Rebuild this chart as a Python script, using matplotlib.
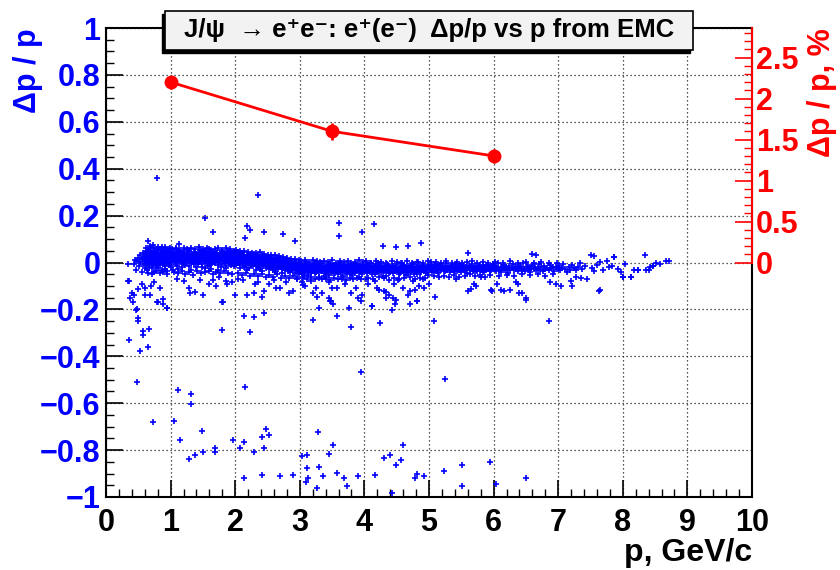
import numpy as np
import matplotlib
matplotlib.use('Agg')
import matplotlib.pyplot as plt
from matplotlib.patches import Rectangle

plt.rcParams['font.family'] = ['Liberation Sans', 'DejaVu Sans']
plt.rcParams['font.weight'] = 'bold'

# ---------------- red series: resolution in % ----------------
p_res = [1.0, 3.5, 6.0]
res_pct = [2.2, 1.6, 1.3]
res_err = [0.08, 0.10, 0.09]

# ---------------- axis ticks / labels ----------------
x_ticks = [0, 1, 2, 3, 4, 5, 6, 7, 8, 9, 10]
y_ticks = [-1, -0.8, -0.6, -0.4, -0.2, 0, 0.2, 0.4, 0.6, 0.8, 1]
y_tick_labels = ['\u22121', '\u22120.8', '\u22120.6', '\u22120.4', '\u22120.2', '0',
                 '0.2', '0.4', '0.6', '0.8', '1']
r_ticks = [0, 0.5, 1, 1.5, 2, 2.5]
r_tick_labels = ['0', '0.5', '1', '1.5', '2', '2.5']

# ---------------- blue scatter: dense band ----------------
# flattened pairs: p in units of 0.01 GeV/c, dp/p in units of 0.001
band_a = [43,-8, 45,10, 47,-30, 48,5, 50,20, 51,-15, 52,32, 53,2, 55,-42, 56,15, 57,40,
          58,-5, 59,25, 60,-22, 60,8, 34,-5]
band_b = [61,12, 61,35, 62,-10, 62,48, 63,20, 63,0, 64,28, 64,-30, 65,15, 65,55, 66,5, 66,38,
          67,-18, 67,22, 68,44, 68,10, 69,-4, 69,30, 70,62, 70,18, 71,-25, 71,40, 72,8, 72,26,
          73,50, 73,-8, 74,14, 74,33, 75,-40, 75,20, 76,2, 76,45, 77,28, 77,12, 78,-14, 78,36,
          79,58, 79,6, 80,24, 80,-22, 81,42, 81,16, 82,0, 82,30, 83,52, 83,10, 84,-12, 84,22,
          85,38, 85,4, 86,66, 86,18, 87,-30, 87,28, 88,12, 88,46, 89,-6, 89,34, 90,20, 90,2,
          91,40, 91,-16, 92,26, 92,8, 93,54, 93,14, 94,-2, 94,32, 95,22, 95,-35, 96,44, 96,10,
          97,28, 97,-10, 98,16, 98,38, 99,4, 99,60, 100,24, 100,-20,
          62,25, 64,8, 66,-2, 68,30, 70,5, 72,-12, 74,48, 76,22, 78,15, 80,40, 82,18, 84,6,
          86,32, 88,-2, 90,48, 92,-28, 94,18, 96,30, 98,-4, 100,42, 63,40, 67,6, 71,20, 75,34,
          79,-10, 83,26, 87,8, 91,22, 95,10, 99,30]
band_c = [101,18, 102,32, 103,6, 104,25, 105,40, 106,12, 107,28, 108,-5, 109,20, 110,36,
          111,10, 112,24, 113,48, 114,15, 115,2, 116,30, 117,20, 118,42, 119,8, 120,26,
          121,14, 122,34, 123,-10, 124,22, 125,38, 126,6, 127,18, 128,30, 129,50, 130,12,
          131,24, 132,-2, 133,34, 134,20, 135,8, 136,44, 137,26, 138,16, 139,-18, 140,30,
          141,10, 142,38, 143,22, 144,4, 145,28, 146,52, 147,14, 148,32, 149,-8, 150,20,
          151,36, 152,10, 153,26, 154,44, 155,2, 156,18, 157,30, 158,-14, 159,24, 160,40,
          161,12, 162,28, 163,6, 164,20, 165,46, 166,16, 167,34, 168,-4, 169,22, 170,10,
          171,30, 172,42, 173,18, 174,2, 175,26, 176,36, 177,14, 178,-20, 179,28, 180,20,
          181,8, 182,38, 183,24, 184,-2, 185,32, 186,16, 187,46, 188,10, 189,26, 190,4,
          191,34, 192,20, 193,-12, 194,28, 195,14, 196,40, 197,22, 198,6, 199,30, 200,16,
          101,-12, 103,44, 105,22, 107,10, 109,56, 111,-26, 113,28, 115,18, 117,4, 119,34,
          121,-4, 123,26, 125,14, 127,52, 129,20, 131,-34, 133,8, 135,28, 137,40, 139,12,
          141,22, 143,-6, 145,36, 147,18, 149,46, 151,6, 153,-22, 155,30, 157,14, 159,56,
          161,24, 163,-8, 165,18, 167,4, 169,38, 171,16, 173,-30, 175,12, 177,32, 179,48,
          181,22, 183,6, 185,-14, 187,28, 189,40, 191,12, 193,24, 195,-4, 197,36, 199,8,
          102,10, 104,-30, 106,34, 108,20, 110,-14, 112,40, 114,26, 116,8, 118,-20, 120,44,
          122,16, 124,4, 126,30, 128,-16, 130,38, 132,22, 134,34, 136,-8, 138,28, 140,14,
          142,2, 144,42, 146,24, 148,-18, 150,32, 152,48, 154,16, 156,-2, 158,38, 160,26,
          162,-28, 164,34, 166,2, 168,26, 170,40, 172,14, 174,-10, 176,20, 178,34, 180,-6,
          182,16, 184,30, 186,-24, 188,22, 190,44, 192,-6, 194,12, 196,24, 198,-16, 200,36,
          101,28, 104,12, 106,20, 109,4, 111,32, 114,22, 116,40, 119,18, 121,30, 124,10,
          126,22, 129,34, 131,14, 134,2, 136,24, 139,36, 141,20, 144,16, 146,6, 149,28,
          151,22, 154,30, 156,40, 159,10, 161,-10, 164,30, 166,24, 169,8, 171,20, 174,32,
          176,6, 179,14, 181,30, 184,18, 186,36, 189,14, 191,24, 194,40, 196,8, 199,20]
band_d = [201,22, 202,8, 203,30, 204,-4, 205,18, 206,36, 207,10, 208,-12, 209,24, 210,4,
          211,40, 212,14, 213,-20, 214,28, 215,6, 216,18, 217,-8, 218,32, 219,10, 220,-2,
          221,22, 222,-24, 223,14, 224,38, 225,2, 226,16, 227,-14, 228,26, 229,6, 230,-6,
          231,20, 232,-30, 233,10, 234,30, 235,-2, 236,12, 237,-18, 238,22, 239,4, 240,-10,
          241,16, 242,-36, 243,6, 244,26, 245,-6, 246,10, 247,-22, 248,18, 249,0, 250,-14,
          251,12, 252,-28, 253,4, 254,22, 255,-8, 256,6, 257,-20, 258,14, 259,-2, 260,-16,
          261,8, 262,-40, 263,-4, 264,16, 265,-12, 266,2, 267,-26, 268,10, 269,-8, 270,-20,
          271,4, 272,-44, 273,-10, 274,12, 275,-18, 276,-2, 277,-30, 278,6, 279,-14, 280,-24,
          281,0, 282,-36, 283,-12, 284,8, 285,-22, 286,-6, 287,-32, 288,-2, 289,-18, 290,-28,
          291,-8, 292,-46, 293,-16, 294,4, 295,-26, 296,-10, 297,-38, 298,-4, 299,-20, 300,-30,
          201,-10, 203,12, 205,44, 207,-22, 209,2, 211,18, 213,32, 215,-16, 217,24, 219,-30,
          221,6, 223,28, 225,-12, 227,10, 229,36, 231,0, 233,-16, 235,22, 237,8, 239,-26,
          241,30, 243,-14, 245,14, 247,2, 249,24, 251,-4, 253,-18, 255,16, 257,4, 259,-32,
          261,20, 263,8, 265,-24, 267,6, 269,18, 271,-10, 273,-28, 275,2, 277,-8, 279,14,
          281,-20, 283,-2, 285,-40, 287,-14, 289,0, 291,-24, 293,-4, 295,-12, 297,-20, 299,-48,
          202,16, 204,34, 206,0, 208,20, 210,26, 212,-6, 214,10, 216,2, 218,14, 220,30,
          222,4, 224,18, 226,-6, 228,8, 230,20, 232,12, 234,-10, 236,24, 238,0, 240,14,
          242,8, 244,-2, 246,20, 248,-12, 250,6, 252,16, 254,0, 256,-16, 258,-6, 260,4,
          262,10, 264,-6, 266,-18, 268,-2, 270,8, 272,-14, 274,-4, 276,-22, 278,-10, 280,-2,
          282,-16, 284,-28, 286,-18, 288,-10, 290,-22, 292,-12, 294,-30, 296,-20, 298,-14, 300,-8]
band_e = [301,-22, 302,-36, 303,-12, 304,-28, 305,-44, 306,-18, 307,-30, 308,-6, 309,-24,
          310,-38, 311,-14, 312,-26, 313,-52, 314,-20, 315,-32, 316,-10, 317,-28, 318,-40,
          319,-16, 320,-24, 321,-34, 322,-8, 323,-22, 324,-46, 325,-30, 326,-18, 327,-36,
          328,-12, 329,-26, 330,-42, 331,-20, 332,-30, 333,-4, 334,-24, 335,-38, 336,-16,
          337,-28, 338,-56, 339,-22, 340,-32, 341,-14, 342,-26, 343,-40, 344,-18, 345,-30,
          346,-8, 347,-24, 348,-36, 349,-20, 350,-28, 351,-44, 352,-16, 353,-32, 354,-24,
          355,-10, 356,-38, 357,-22, 358,-30, 359,-48, 360,-18, 361,-26, 362,-34, 363,-12,
          364,-28, 365,-42, 366,-20, 367,-30, 368,-6, 369,-24, 370,-36, 371,-18, 372,-28,
          373,-50, 374,-22, 375,-32, 376,-14, 377,-26, 378,-40, 379,-20, 380,-30, 381,-10,
          382,-24, 383,-36, 384,-18, 385,-28, 386,-46, 387,-22, 388,-32, 389,-12, 390,-26,
          391,-38, 392,-16, 393,-30, 394,-22, 395,-42, 396,-18, 397,-28, 398,-8, 399,-34, 400,-24,
          301,-4, 303,-48, 305,-16, 307,-58, 309,2, 311,-34, 313,-26, 315,-12, 317,-46, 319,-32,
          321,-18, 323,-2, 325,-40, 327,-24, 329,-62, 331,-10, 333,-36, 335,-26, 337,-14,
          339,-44, 341,-30, 343,-20, 345,-54, 347,-6, 349,-38, 351,-26, 353,-12, 355,-46,
          357,-32, 359,-18, 361,-4, 363,-40, 365,-28, 367,-58, 369,-14, 371,-36, 373,-24,
          375,-10, 377,-44, 379,-30, 381,-52, 383,-16, 385,-6, 387,-38, 389,-26, 391,-60,
          393,-14, 395,-28, 397,-48, 399,-20,
          302,-20, 304,-14, 306,-32, 308,-26, 310,-22, 312,-38, 314,-30, 316,-24, 318,-20,
          320,-36, 322,-28, 324,-16, 326,-26, 328,-34, 330,-22, 332,-18, 334,-32, 336,-28,
          338,-24, 340,-18, 342,-36, 344,-30, 346,-22, 348,-26, 350,-16, 352,-30, 354,-36,
          356,-24, 358,-20, 360,-34, 362,-22, 364,-16, 366,-30, 368,-26, 370,-20, 372,-38,
          374,-30, 376,-24, 378,-18, 380,-36, 382,-30, 384,-22, 386,-26, 388,-18, 390,-32,
          392,-26, 394,-34, 396,-24, 398,-20, 400,-30]
band_f = [401,-18, 402,-32, 403,-24, 404,-44, 405,-12, 406,-28, 407,-36, 408,-20, 409,-30,
          410,-8, 411,-26, 412,-40, 413,-22, 414,-34, 415,-16, 416,-28, 417,-50, 418,-20,
          419,-32, 420,-24, 421,-4, 422,-30, 423,-38, 424,-18, 425,-26, 426,-42, 427,-22,
          428,-34, 429,-14, 430,-28, 431,-36, 432,-20, 433,-30, 434,-56, 435,-24, 436,-10,
          437,-32, 438,-22, 439,-40, 440,-28, 441,-18, 442,-34, 443,-26, 444,-46, 445,-16,
          446,-30, 447,-24, 448,-38, 449,-20, 450,-6, 451,-28, 452,-36, 453,-22, 454,-32,
          455,-44, 456,-18, 457,-26, 458,-34, 459,-12, 460,-28, 461,-40, 462,-22, 463,-30,
          464,-20, 465,-52, 466,-26, 467,-36, 468,-14, 469,-28, 470,-22, 471,-34, 472,-42,
          473,-18, 474,-30, 475,-24, 476,-8, 477,-32, 478,-26, 479,-38, 480,-20, 481,-30,
          482,-48, 483,-22, 484,-34, 485,-16, 486,-28, 487,-24, 488,-40, 489,-12, 490,-30,
          491,-22, 492,-36, 493,-26, 494,-18, 495,-44, 496,-28, 497,-20, 498,-32, 499,-24, 500,-10,
          402,-12, 405,-38, 408,-2, 411,-48, 414,-26, 417,-14, 420,-40, 423,-8, 426,-30, 429,-58,
          432,-34, 435,-6, 438,-46, 441,-28, 444,-14, 447,-38, 450,-30, 453,-48, 456,-4, 459,-36,
          462,-14, 465,-30, 468,-44, 471,-20, 474,-10, 477,-50, 480,-34, 483,2, 486,-42, 489,-30,
          492,-16, 495,-26, 498,-54,
          401,-28, 404,-22, 407,-26, 410,-34, 413,-30, 416,-20, 419,-26, 422,-22, 425,-34,
          428,-26, 431,-24, 434,-32, 437,-28, 440,-20, 443,-30, 446,-24, 449,-34, 452,-28,
          455,-24, 458,-20, 461,-30, 464,-34, 467,-24, 470,-30, 473,-26, 476,-20, 479,-28,
          482,-32, 485,-26, 488,-22, 491,-30, 494,-26, 497,-34, 500,-24]
band_g = [501,-20, 502,-34, 503,-12, 504,-26, 505,-40, 506,-18, 507,-30, 508,-22, 509,-6,
          510,-28, 511,-36, 512,-16, 513,-24, 514,-44, 515,-20, 516,-30, 517,-10, 518,-26,
          519,-34, 520,-22, 522,-14, 523,-30, 524,-38, 525,-20, 526,-26, 527,-4, 528,-32,
          529,-22, 530,-16, 532,-28, 533,-42, 534,-20, 535,-30, 536,-12, 537,-24, 538,-34,
          540,-18, 541,-28, 542,-8, 543,-36, 544,-22, 546,-30, 547,-16, 548,-26, 549,-40,
          550,-20, 552,-28, 553,-12, 554,-34, 555,-22, 557,-30, 558,-18, 559,-46, 560,-24,
          562,-14, 563,-32, 564,-20, 566,-28, 567,-6, 568,-36, 569,-22, 571,-16, 572,-30,
          573,-24, 575,-38, 576,-18, 577,-26, 579,-10, 580,-32, 582,-22, 583,-40, 584,-16,
          586,-28, 587,-20, 588,-34, 590,-12, 591,-26, 592,-22, 594,-38, 595,-18, 596,-30,
          598,-24, 599,-8, 600,-20,
          505,-24, 512,-28, 518,-18, 526,-32, 533,-24, 540,-36, 548,-14, 556,-26, 563,-24,
          570,-30, 578,-22, 585,-36, 593,-28, 597,-14]
band_h = [601,-28, 603,-14, 604,-36, 606,-22, 607,-4, 609,-30, 611,-18, 612,-40, 614,-24,
          616,-10, 617,-32, 619,-20, 621,-26, 623,-44, 624,-16, 626,-30, 628,-22, 630,-8,
          631,-34, 633,-20, 635,-28, 637,-12, 638,-38, 640,-24, 642,-18, 644,-30, 645,-2,
          647,-26, 649,-36, 651,-20, 653,-14, 655,-30, 656,-42, 658,-22, 660,-10, 662,-28,
          664,-18, 666,-34, 668,-24, 670,-6, 672,-30, 674,-20, 676,-38, 678,-14, 680,-26,
          682,-22, 685,-32, 687,-10, 689,-24, 692,-18, 694,-36, 697,-20, 699,-28,
          701,-16, 703,-30, 706,-22, 708,-8, 711,-26, 713,-40, 716,-18, 719,-30, 721,-12,
          724,-24, 727,-34, 730,-20, 733,-4, 737,-28, 741,-16, 752,-22, 756,-36, 760,-10,
          765,4, 770,-30, 775,6, 779,-20, 783,-14, 787,22, 792,-26, 797,-40, 800,-60,
          804,-8, 812,-60, 818,-32, 823,-30, 836,-34, 842,-18, 846,-16, 852,-2, 858,-6, 867,8]
band_edge = [62,62, 65,-45, 68,70, 71,-48, 74,60, 77,-38, 80,66, 83,-44, 86,58, 89,-40, 92,64,
             95,-48, 98,56,
             102,58, 105,-40, 108,62, 111,-44, 114,54, 117,-36, 120,60, 123,-48, 126,56,
             129,-40, 132,62, 135,-52, 138,58, 141,-38, 144,64, 147,-46, 150,56, 153,-42,
             156,60, 159,-36, 162,54, 165,-50, 168,58, 171,-40, 174,62, 177,-46, 180,52,
             183,-38, 186,60, 189,-44, 192,56, 195,-50, 198,50,
             202,52, 205,-46, 208,48, 211,-52, 214,50, 217,-44, 220,46, 223,-56, 226,42,
             229,-50, 232,40, 235,-58, 238,44, 241,-48, 244,36, 247,-60, 250,34, 253,-54,
             256,30, 259,-62, 262,32, 265,-50, 268,26, 271,-64, 274,24, 277,-56, 280,20,
             283,-66, 286,16, 289,-58, 292,14, 295,-68, 298,10,
             302,8, 305,-66, 308,12, 311,-70, 314,4, 317,-62, 320,10, 323,-72, 326,6, 329,-64,
             332,2, 335,-70, 338,8, 341,-60, 344,4, 347,-74, 350,10, 353,-66, 356,0, 359,-70,
             362,6, 365,-62, 368,2, 371,-76, 374,8, 377,-64, 380,0, 383,-70, 386,4, 389,-66,
             392,10, 395,-72, 398,2, 402,6, 406,-66, 410,0, 414,-72, 418,8, 422,-62, 426,4,
             430,-68, 434,-2, 438,-74, 442,6, 446,-64, 450,2, 454,-70, 458,0, 462,-66, 466,8,
             470,-60, 474,-2, 478,-72, 482,4, 486,-64, 490,0, 494,-68, 498,6,
             503,2, 507,-58, 511,4, 515,-62, 519,0, 523,-56, 527,6, 531,-60, 535,-2, 539,-54,
             543,4, 547,-62, 551,0, 555,-56, 559,2, 563,-50, 567,6, 571,-58, 575,-4, 579,-52,
             583,2, 587,-60, 591,0, 595,-54, 602,4, 608,-56, 614,0, 620,-52, 626,6, 632,-58,
             638,-2, 644,-50, 650,4, 656,-54, 662,0, 668,-48, 674,2, 680,-56, 686,-4, 692,-50,
             698,0]

# ---------------- blue scatter: outliers (p [GeV/c], dp/p) ----------------
outliers_up = [0.79,0.36, 2.35,0.286, 1.53,0.19, 1.66,0.128, 2.18,0.156, 2.23,0.138,
               2.15,0.104, 2.45,0.128, 2.74,0.121, 2.93,0.093, 3.61,0.17, 3.60,0.114,
               3.97,0.128, 4.15,0.163, 4.29,0.069, 4.49,0.065, 4.68,0.069, 4.88,0.083,
               5.60,0.039, 0.65,0.093, 0.73,0.075, 1.13,0.079, 7.50,0.030, 7.56,0.028,
               8.35,0.030, 8.72,0.008, 6.60,0.035, 6.65,0.030, 7.87,0.023, 8.46,-0.017]
outliers_mid = [0.34,-0.077, 0.37,-0.15, 0.43,-0.14, 0.48,-0.20, 0.61,-0.11, 0.61,-0.14,
                0.68,-0.14, 0.83,-0.107, 0.80,-0.168, 0.88,-0.156, 0.95,-0.196, 1.37,-0.125,
                1.50,-0.14, 1.66,-0.073, 1.81,-0.17, 2.18,-0.14, 2.45,-0.12, 2.69,-0.11,
                2.83,-0.13, 3.05,-0.097, 3.26,-0.146, 3.45,-0.153, 3.48,-0.165, 3.58,-0.107,
                3.97,-0.14, 4.12,-0.186, 4.23,-0.118, 4.33,-0.125, 4.45,-0.15, 4.49,-0.158,
                4.67,-0.14, 4.79,-0.118, 4.82,-0.163, 5.10,-0.146, 5.65,-0.115, 5.73,-0.10,
                5.96,-0.118, 6.11,-0.118, 6.25,-0.118, 6.44,-0.13, 7.65,-0.118,
                0.36,-0.078, 0.40,-0.13, 0.50,-0.114, 0.55,-0.09, 0.70,-0.10, 0.75,-0.085,
                1.29,-0.107, 1.30,-0.13, 1.59,-0.09, 1.75,-0.06, 1.85,-0.08, 1.88,-0.09,
                2.00,-0.14, 2.12,-0.075, 2.29,-0.13, 2.31,-0.09, 2.36,-0.085, 2.42,-0.145,
                2.52,-0.09, 2.63,-0.11, 2.78,-0.085, 2.90,-0.12, 3.04,-0.085, 3.17,-0.08,
                3.25,-0.11, 3.35,-0.13, 3.08,-0.10, 3.20,-0.13, 3.40,-0.07, 3.45,-0.085,
                3.50,-0.11, 3.65,-0.07, 3.70,-0.09, 3.80,-0.13, 3.87,-0.11, 3.90,-0.15,
                4.03,-0.07, 4.06,-0.09, 4.17,-0.08, 4.20,-0.11, 4.30,-0.12, 4.33,-0.15,
                4.38,-0.14, 4.46,-0.093, 4.52,-0.075, 4.60,-0.11, 4.70,-0.12, 4.75,-0.08,
                4.85,-0.10, 4.90,-0.07, 4.93,-0.11, 5.00,-0.09, 5.42,-0.07, 5.60,-0.12,
                5.70,-0.09, 5.80,-0.06, 5.97,-0.12, 6.05,-0.09, 6.16,-0.12, 6.35,-0.085,
                6.38,-0.09, 6.40,-0.13, 6.50,-0.15, 6.87,-0.085, 6.97,-0.09, 7.05,-0.10,
                7.20,-0.08, 7.22,-0.10, 7.28,-0.06, 7.36,-0.065, 7.45,-0.07, 7.63,-0.12,
                1.10,-0.07, 1.20,-0.08, 1.45,-0.075, 1.70,-0.10, 1.95,-0.085, 2.05,-0.07,
                2.60,-0.075, 2.95,-0.07, 8.00,-0.06, 8.12,-0.06, 8.23,-0.031, 8.40,-0.034]
outliers_far = [0.42,-0.17, 0.46,-0.203, 0.49,-0.238, 0.50,-0.248, 0.57,-0.292, 0.57,-0.311,
                0.67,-0.283, 0.35,-0.331, 0.53,-0.379, 0.65,-0.361, 0.79,-0.17, 0.88,-0.175,
                0.94,-0.194, 1.80,-0.17, 1.80,-0.287, 2.13,-0.228, 2.29,-0.234, 2.44,-0.214,
                2.23,-0.297, 3.20,-0.244, 3.30,-0.194, 3.46,-0.163, 3.52,-0.176, 3.58,-0.228,
                3.76,-0.194, 3.79,-0.273, 3.94,-0.163, 4.12,-0.184, 4.24,-0.258, 4.42,-0.204,
                4.48,-0.175, 4.71,-0.176, 4.81,-0.166, 5.07,-0.248, 6.50,-0.162, 6.85,-0.248,
                0.48,-0.511, 2.15,-0.531, 3.95,-0.468, 5.24,-0.496, 1.11,-0.545, 1.32,-0.561,
                1.32,-0.604, 0.73,-0.682, 1.05,-0.678, 1.49,-0.717, 1.15,-0.759, 1.28,-0.837,
                1.37,-0.823, 1.50,-0.808, 1.69,-0.789, 1.69,-0.808, 1.96,-0.759, 2.08,-0.789,
                2.14,-0.766, 2.29,-0.808, 2.42,-0.745, 2.47,-0.711, 2.52,-0.735, 2.45,-0.789,
                2.13,-0.921, 2.42,-0.907, 2.70,-0.911, 2.89,-0.907, 3.03,-0.827, 3.11,-0.823,
                3.11,-0.875, 3.12,-0.921, 3.10,-0.937, 3.26,-0.961, 3.28,-0.721, 3.30,-0.873,
                3.36,-0.911, 3.45,-0.818, 3.52,-0.779, 3.57,-0.896, 3.69,-0.917, 3.73,-0.951,
                3.90,-0.911, 4.16,-0.906, 4.30,-0.834, 4.39,-0.823, 4.49,-0.862, 4.57,-0.844,
                4.60,-0.779, 4.43,-0.985, 4.79,-0.917, 4.81,-0.900, 4.93,-0.911, 5.23,-0.887,
                5.51,-0.862, 5.51,-0.951, 5.95,-0.852, 6.03,-0.945, 6.50,-0.917]


def split_pairs(flat, sx=1.0, sy=1.0):
    a = np.asarray(flat, dtype=float).reshape(-1, 2)
    return a[:, 0] * sx, a[:, 1] * sy


W, H = 840, 570
fig = plt.figure(figsize=(W / 100, H / 100), dpi=100)
fig.patch.set_facecolor('white')

L, R, T, B = 106, 752, 28, 497
ax = fig.add_axes([L / W, 1 - B / H, (R - L) / W, (B - T) / H])
ax.set_xlim(0, 10)
ax.set_ylim(-1, 1)

blue = '#0000ff'
red = '#ff0000'

# scatter
for band in [band_a, band_b, band_c, band_d, band_e, band_f, band_g, band_h, band_edge]:
    bx, by = split_pairs(band, 0.01, 0.001)
    ax.plot(bx, by, '+', color=blue, ms=4.0, mew=1.2, ls='none', zorder=3)
for out in [outliers_up, outliers_mid, outliers_far]:
    ox, oy = split_pairs(out)
    ax.plot(ox, oy, '+', color=blue, ms=4.0, mew=1.2, ls='none', zorder=3)

# grid
ax.grid(True, which='major', color='#222222', linestyle=(0, (1, 2.2)), linewidth=0.9)
ax.set_axisbelow(True)

# ticks left / bottom
ax.set_xticks(x_ticks)
ax.set_xticklabels([str(t) for t in x_ticks])
ax.set_xticks(np.arange(0, 10.01, 0.2), minor=True)
ax.set_yticks(y_ticks)
ax.set_yticklabels(y_tick_labels)
ax.set_yticks(np.arange(-1, 1.001, 0.05), minor=True)
ax.tick_params(axis='both', which='major', direction='in', length=12, width=1.2,
               color='black', labelsize=22)
ax.tick_params(axis='both', which='minor', direction='in', length=6, width=1.0, color='black')
ax.tick_params(axis='y', labelcolor=blue, pad=4)
ax.tick_params(axis='x', labelcolor='black', pad=8)
ax.tick_params(right=False, top=False, which='both')
for lab in ax.get_xticklabels() + ax.get_yticklabels():
    lab.set_fontweight('bold')
for s in ax.spines.values():
    s.set_linewidth(1.5)
    s.set_color('black')

# right axis (percent)
ax2 = ax.twinx()
ax2.set_ylim(-2.86, 2.86)
ax2.set_xlim(0, 10)
ax2.errorbar(p_res, res_pct, yerr=res_err, color=red, marker='o', ms=9, lw=2,
             elinewidth=2, capsize=0, zorder=5)
ax2.set_yticks(r_ticks)
ax2.set_yticklabels(r_tick_labels)
minor_r = [v for v in np.round(np.arange(0.1, 2.81, 0.1), 2) if v not in r_ticks]
ax2.set_yticks(minor_r, minor=True)
ax2.tick_params(axis='y', which='major', direction='in', length=12, width=1.2,
                color=red, labelcolor=red, labelsize=22, pad=3)
ax2.tick_params(axis='y', which='minor', direction='in', length=6, width=1.0, color=red)
for lab in ax2.get_yticklabels():
    lab.set_fontweight('bold')
for k in ['left', 'top', 'bottom']:
    ax2.spines[k].set_visible(False)
ax2.spines['right'].set_color(red)
ax2.spines['right'].set_linewidth(1.5)
ax2.spines['right'].set_bounds(0, 2.86)

# axis titles
fig.text(28 / W, 1 - 28 / H, '\u0394p / p', color=blue, fontsize=22, fontweight='bold',
         rotation=90, ha='center', va='top')
fig.text(822 / W, 1 - 28 / H, '\u0394p / p, %', color=red, fontsize=22, fontweight='bold',
         rotation=90, ha='center', va='top')
fig.text(752 / W, 1 - 561 / H, 'p, GeV/c', color='black', fontsize=23, fontweight='bold',
         ha='right', va='baseline')

# title box with shadow
bx0, bx1, by0, by1 = 165, 693, 11, 50
fig.add_artist(Rectangle(((bx0 - 3) / W, 1 - (by1 + 3) / H), (bx1 - bx0) / W, (by1 - by0) / H,
                         transform=fig.transFigure, facecolor='black', edgecolor='black',
                         zorder=10))
fig.add_artist(Rectangle((bx0 / W, 1 - by1 / H), (bx1 - bx0) / W, (by1 - by0) / H,
                         transform=fig.transFigure, facecolor='#f2f2f2', edgecolor='black',
                         linewidth=1.2, zorder=11))
fig.text((bx0 + bx1) / 2 / W, 1 - (by0 + by1) / 2 / H,
         'J/\u03c8  \u2192 e\u207ae\u207b: e\u207a(e\u207b)  \u0394p/p vs p from EMC',
         fontsize=18.5, fontweight='bold', ha='center', va='center', zorder=12)

fig.savefig('out.png', dpi=100, facecolor='white')
